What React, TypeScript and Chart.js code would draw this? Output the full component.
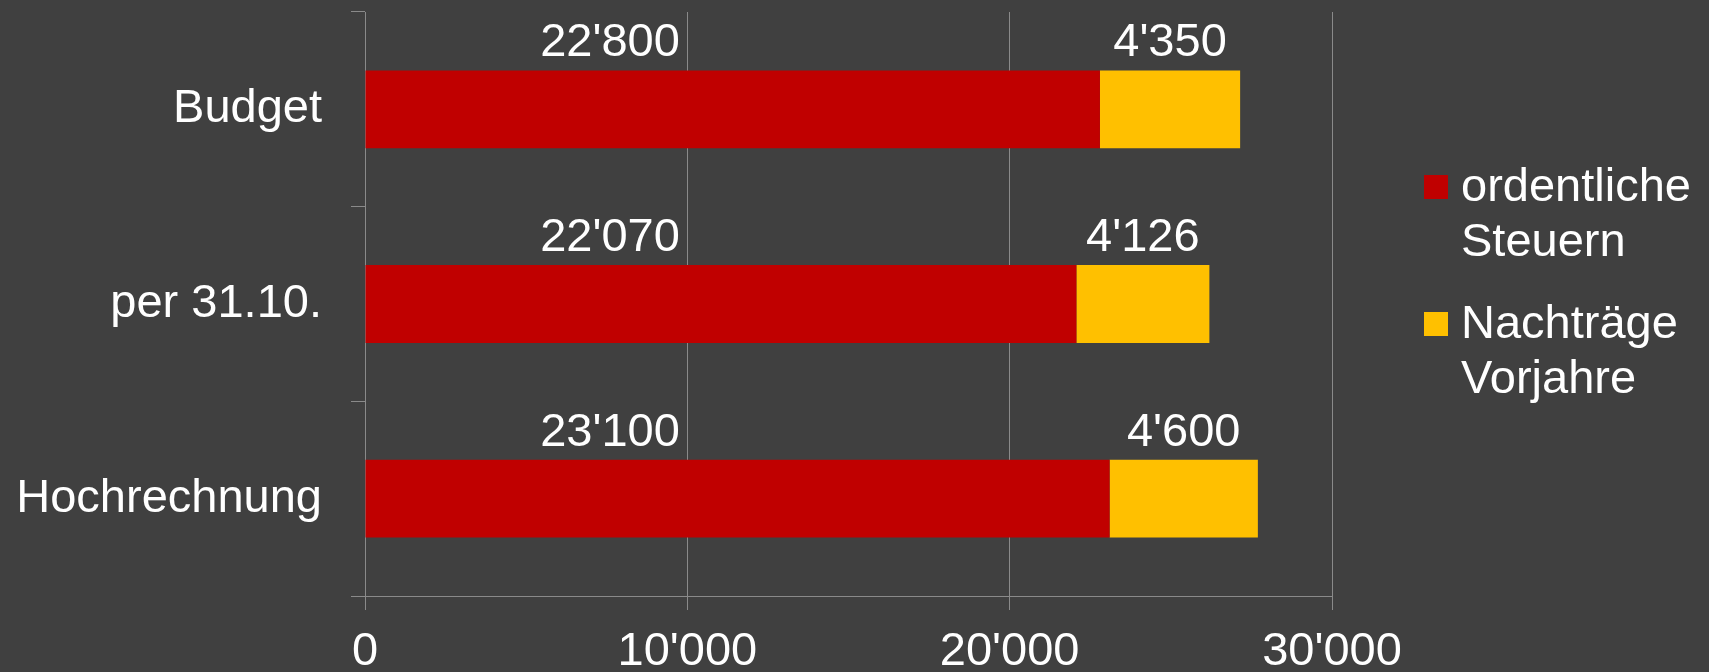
import React, { useEffect, useRef } from "react";
import { Chart, registerables } from "chart.js";

Chart.register(...registerables);

const categories = ["Budget", "per 31.10.", "Hochrechnung"];
const ordentlicheSteuern = [22800, 22070, 23100];
const nachtraegeVorjahre = [4350, 4126, 4600];
const seriesNames = [
  ["ordentliche", "Steuern"],
  ["Nachträge", "Vorjahre"],
];
const seriesColors = ["#C00000", "#FFC000"];
const xTickValues = [0, 10000, 20000, 30000];

const FONT = '"Liberation Sans", Arial, sans-serif';
const BG = "#404040";
const GRID = "#8a8a8a";

const fmt = (v: number) =>
  String(Math.round(v)).replace(/\B(?=(\d{3})+(?!\d))/g, "'");

const labelPlugin = {
  id: "valueLabels",
  afterDatasetsDraw(chart: any) {
    const ctx = chart.ctx;
    const xs = chart.scales.x;
    ctx.save();
    ctx.fillStyle = "#ffffff";
    ctx.font = `47px ${FONT}`;
    ctx.textAlign = "center";
    ctx.textBaseline = "alphabetic";
    chart.data.datasets.forEach((ds: any, di: number) => {
      const meta = chart.getDatasetMeta(di);
      meta.data.forEach((el: any, i: number) => {
        const v = ds.data[i];
        const top = el.y - el.height / 2;
        let cx: number;
        if (di === 0) {
          cx = xs.getPixelForValue(7600);
        } else {
          cx = (el.x + el.base) / 2;
        }
        ctx.fillText(fmt(v), cx, top - 14);
      });
    });
    ctx.restore();
  },
};

const legendPlugin = {
  id: "customLegend",
  afterDraw(chart: any) {
    const ctx = chart.ctx;
    const area = chart.chartArea;
    const x0 = area.right + 92;
    const midY = (area.top + area.bottom) / 2;
    const firstBase = midY - 103;
    ctx.save();
    ctx.font = `47px ${FONT}`;
    ctx.textAlign = "left";
    ctx.textBaseline = "alphabetic";
    seriesNames.forEach((lines, idx) => {
      const base = firstBase + idx * 137;
      ctx.fillStyle = seriesColors[idx];
      ctx.fillRect(x0, base - 26, 24, 24);
      ctx.fillStyle = "#ffffff";
      lines.forEach((t, li) => {
        ctx.fillText(t, x0 + 37, base + li * 55);
      });
    });
    ctx.restore();
  },
};

export default function App() {
  const ref = useRef<HTMLCanvasElement | null>(null);

  useEffect(() => {
    if (!ref.current) return;
    const chart = new Chart(ref.current, {
      type: "bar",
      data: {
        labels: categories,
        datasets: [
          {
            label: seriesNames[0].join(" "),
            data: ordentlicheSteuern,
            backgroundColor: seriesColors[0],
            borderWidth: 0,
            categoryPercentage: 1,
            barPercentage: 0.4,
          },
          {
            label: seriesNames[1].join(" "),
            data: nachtraegeVorjahre,
            backgroundColor: seriesColors[1],
            borderWidth: 0,
            categoryPercentage: 1,
            barPercentage: 0.4,
          },
        ],
      },
      options: {
        indexAxis: "y",
        responsive: false,
        animation: false,
        devicePixelRatio: 1,
        layout: { padding: { top: 12, right: 377, left: 0, bottom: 0 } },
        plugins: {
          legend: { display: false },
          tooltip: { enabled: false },
        },
        scales: {
          x: {
            stacked: true,
            min: 0,
            max: 30000,
            afterBuildTicks: (scale: any) => {
              scale.ticks = xTickValues.map((v) => ({ value: v }));
            },
            afterFit: (scale: any) => {
              scale.height = 76;
              scale.paddingLeft = 0;
              scale.paddingRight = 0;
            },
            grid: {
              color: GRID,
              lineWidth: 1,
              drawOnChartArea: true,
              drawTicks: true,
              tickLength: 14,
              tickColor: GRID,
            },
            border: { display: true, color: GRID, width: 1 },
            ticks: {
              color: "#ffffff",
              font: { family: FONT, size: 47 },
              padding: 14,
              maxRotation: 0,
              autoSkip: false,
              callback: (v: any) => fmt(Number(v)),
            },
          },
          y: {
            stacked: true,
            afterFit: (scale: any) => {
              scale.width = 365;
              scale.paddingTop = 0;
              scale.paddingBottom = 0;
            },
            grid: {
              color: GRID,
              lineWidth: 1,
              drawOnChartArea: false,
              drawTicks: true,
              tickLength: 14,
              tickColor: GRID,
              offset: true,
            },
            border: { display: true, color: GRID, width: 1 },
            ticks: {
              color: "#ffffff",
              font: { family: FONT, size: 47 },
              padding: 29,
            },
          },
        },
      },
      plugins: [labelPlugin, legendPlugin],
    } as any);
    return () => chart.destroy();
  }, []);

  return (
    <div
      style={{
        position: "fixed",
        left: 0,
        top: 0,
        width: 1709,
        height: 672,
        background: BG,
      }}
    >
      <canvas ref={ref} width={1709} height={672} style={{ display: "block" }} />
    </div>
  );
}
